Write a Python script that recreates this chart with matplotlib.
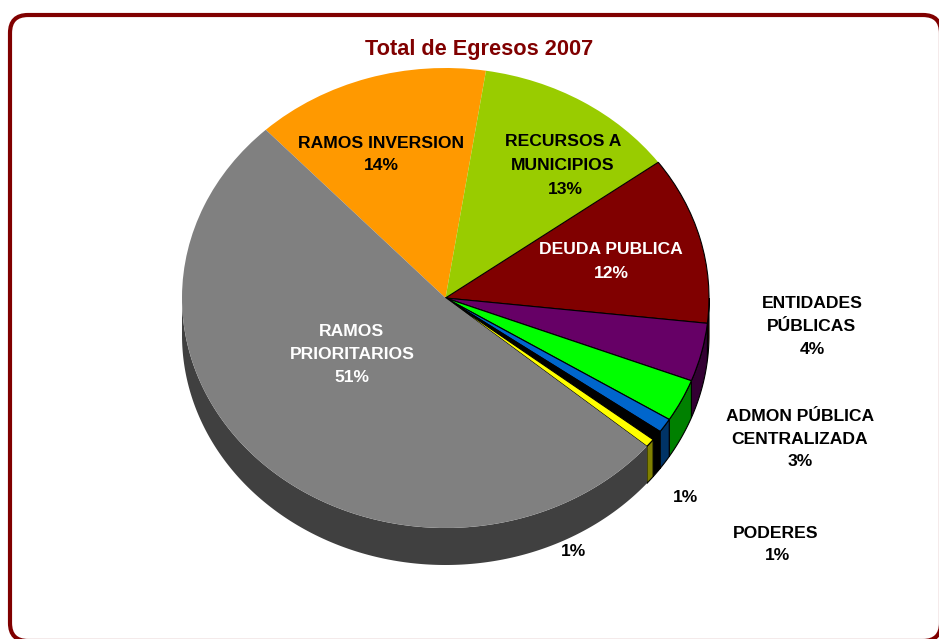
import numpy as np
import matplotlib
matplotlib.use("Agg")
import matplotlib.pyplot as plt
from matplotlib.patches import FancyBboxPatch, Polygon

plt.rcParams['font.family'] = ['Liberation Sans', 'DejaVu Sans']

# Data
categories = ['RAMOS INVERSION', 'RECURSOS A MUNICIPIOS', 'DEUDA PUBLICA', 'ENTIDADES PÚBLICAS',
              'ADMON PÚBLICA CENTRALIZADA', 'OTROS A', 'PODERES', 'OTROS B', 'RAMOS PRIORITARIOS']
values = [14.4, 12.5, 11.8, 4.1, 3.0, 1.0, 0.7, 0.6, 51.9]
top_colors = ['#FF9900', '#99CC00', '#800000', '#660066', '#00FF00', '#0066CC', '#000000', '#FFFF00', '#808080']
side_colors = ['#804D00', '#4D6600', '#400000', '#330033', '#008000', '#003366', '#000000', '#808000', '#404040']
edge_black = [False, False, True, True, True, True, True, True, False]
title = 'Total de Egresos 2007'

W, H = 939, 639
CX, CY, RX, RY, DEPTH = 445.5, 298, 263.5, 230, 37
K = RX / RY

fig = plt.figure(figsize=(W / 100, H / 100), dpi=100)
bg = fig.add_axes([0, 0, 1, 1], zorder=0)
bg.set_xlim(0, W); bg.set_ylim(H, 0); bg.axis('off')
bg.add_patch(FancyBboxPatch((10, 15), 931, 626, boxstyle='round,pad=0,rounding_size=18',
                            fc='white', ec='#800000', lw=3))

ax = fig.add_axes([0, 0, 1, 1], zorder=1)
ax.patch.set_alpha(0)
center = (CX, (H - CY) * K)
wedges, _ = ax.pie(values, colors=top_colors, startangle=133.0, counterclock=False,
                   radius=RX, center=center, frame=True)
ax.set_aspect('auto')
ax.set_xlim(0, W); ax.set_ylim(0, H * K); ax.axis('off')

d = DEPTH * K
for w, sc, eb in zip(wedges, side_colors, edge_black):
    w.set_edgecolor('black' if eb else w.get_facecolor())
    w.set_linewidth(0.8 if eb else 0)
    w.set_zorder(5)
    t1, t2 = w.theta1 % 360, w.theta2 % 360
    if t2 <= t1:
        t2 += 360
    a, b = max(t1, 180), min(t2, 360)
    if b <= a:
        continue
    th = np.radians(np.linspace(a, b, 200))
    xs = center[0] + RX * np.cos(th)
    ys = center[1] + RX * np.sin(th)
    pts = np.r_[np.c_[xs, ys], np.c_[xs, ys - d][::-1]]
    ax.add_patch(Polygon(pts, closed=True, fc=sc, ec='black' if eb else sc,
                         lw=0.8 if eb else 0, zorder=3))

labels = [
    (381, 141, 'RAMOS INVERSION', 'black'), (381, 164, '14%', 'black'),
    (563, 140, 'RECURSOS A', 'black'), (563, 163, 'MUNICIPIOS', 'black'), (565, 187, '13%', 'black'),
    (611, 247.5, 'DEUDA PUBLICA', 'white'), (611, 271, '12%', 'white'),
    (812, 301.5, 'ENTIDADES', 'black'), (812, 324.5, 'PÚBLICAS', 'black'), (812, 347, '4%', 'black'),
    (800, 414.5, 'ADMON PÚBLICA', 'black'), (800, 437.5, 'CENTRALIZADA', 'black'), (800, 460, '3%', 'black'),
    (685, 495, '1%', 'black'),
    (776, 531, 'PODERES', 'black'), (778, 554, '1%', 'black'),
    (573, 550, '1%', 'black'),
    (352, 329.5, 'RAMOS', 'white'), (352, 352.5, 'PRIORITARIOS', 'white'), (352, 375, '51%', 'white'),
]
txt = fig.add_axes([0, 0, 1, 1], zorder=2)
txt.set_xlim(0, W); txt.set_ylim(H, 0); txt.axis('off')
for x, y, s, c in labels:
    txt.text(x, y + 0.5, s, color=c, fontsize=12.6, fontweight='bold', ha='center', va='center_baseline')
txt.text(479, 47.5, title, color='#800000', fontsize=15.7, fontweight='bold', ha='center', va='center_baseline')

fig.savefig('out.png', dpi=100)
